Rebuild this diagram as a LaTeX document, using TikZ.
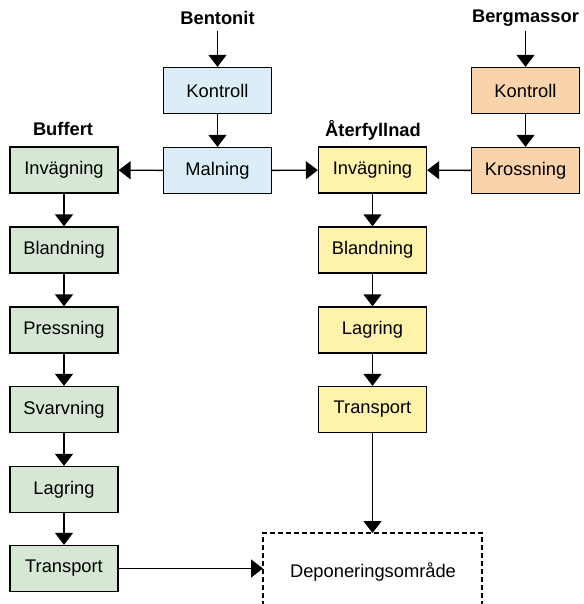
\documentclass[tikz,border=0pt]{standalone}
\usepackage{fontspec}
\setmainfont{Liberation Sans}
\usetikzlibrary{arrows.meta}
\definecolor{cgreen}{RGB}{214,232,212}
\definecolor{cblue}{RGB}{219,238,248}
\definecolor{cyellow}{RGB}{255,242,170}
\definecolor{corange}{RGB}{249,211,172}
\tikzset{
  procbox/.style={draw=black, line width=1.3pt, minimum width=108pt, minimum height=46pt, inner sep=0pt, font=\fontsize{18.3pt}{20pt}\selectfont},
  gbox/.style={procbox, fill=cgreen},
  bbox/.style={procbox, fill=cblue},
  ybox/.style={procbox, fill=cyellow},
  obox/.style={procbox, fill=corange},
  head/.style={font=\fontsize{18.3pt}{20pt}\selectfont\bfseries, inner sep=2pt},
  flow/.style={line width=1.4pt, -{Triangle[width=18pt,length=12pt]}},
  depline/.style={line width=1.3pt, dash pattern=on 5pt off 3pt}
}
\begin{document}
\begin{tikzpicture}[x=1pt,y=-1pt]
\useasboundingbox (0,0) rectangle (583,604);
% headings
\node[head] (bent) at (217.5,18) {Bentonit};
\node[head] (berg) at (525.5,18) {Bergmassor};
\node[head] (buff) at (63,129) {Buffert};
\node[head] (ater) at (373,130) {Återfyllnad};
\coordinate (bentA) at (217.5,31);
\coordinate (bergA) at (525.5,31);
% bentonite column
\node[bbox] (bk) at (217.5,90.5) {Kontroll};
\node[bbox] (bm) at (217.5,170.5) {Malning};
% rock column
\node[obox] (ok) at (525.5,90.5) {Kontroll};
\node[obox] (ox) at (525.5,170.5) {Krossning};
% buffer column
\node[gbox] (g1) at (64,170) {Invägning};
\node[gbox] (g2) at (64,250) {Blandning};
\node[gbox] (g3) at (64,330) {Pressning};
\node[gbox] (g4) at (64,409.5) {Svarvning};
\node[gbox] (g5) at (64,489.5) {Lagring};
\node[gbox] (g6) at (64,568.5) {Transport};
% backfill column
\node[ybox] (y1) at (372.5,170) {Invägning};
\node[ybox] (y2) at (372.5,250) {Blandning};
\node[ybox] (y3) at (372.5,330) {Lagring};
\node[ybox] (y4) at (372.5,409.5) {Transport};
% deposition area (open at bottom)
\coordinate (dBL) at (263,606);
\coordinate (dTL) at (263,533);
\coordinate (dTR) at (482,533);
\coordinate (dBR) at (482,606);
\draw[depline] (dBL) -- (dTL) -- (dTR) -- (dBR);
\node[font=\fontsize{18.3pt}{20pt}\selectfont] (dep) at (373,572) {Deponeringsområde};
\coordinate (depL) at (263,568.5);
\coordinate (depT) at (372.5,533);
% connectors
\draw[flow] (bentA) -- (bk.north);
\draw[flow] (bk) -- (bm);
\draw[flow] (bergA) -- (ok.north);
\draw[flow] (ok) -- (ox);
\draw[flow] (bm) -- (g1);
\draw[flow] (bm) -- (y1);
\draw[flow] (ox) -- (y1);
\draw[flow] (g1) -- (g2);
\draw[flow] (g2) -- (g3);
\draw[flow] (g3) -- (g4);
\draw[flow] (g4) -- (g5);
\draw[flow] (g5) -- (g6);
\draw[flow] (y1) -- (y2);
\draw[flow] (y2) -- (y3);
\draw[flow] (y3) -- (y4);
\draw[flow] (y4) -- (depT);
\draw[flow] (g6) -- (depL);
\end{tikzpicture}
\end{document}
